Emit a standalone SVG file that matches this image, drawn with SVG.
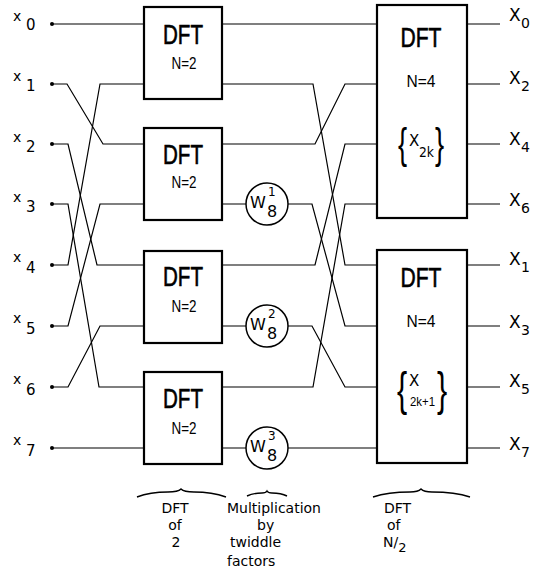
<svg xmlns="http://www.w3.org/2000/svg" width="537" height="585" viewBox="0 0 537 585">
<style>
.box{fill:#fff;stroke:#000;stroke-width:2.2}
.w{fill:none;stroke:#000;stroke-width:1.2}
.c{fill:#fff;stroke:#000;stroke-width:1.5}
.brace{fill:none;stroke:#000;stroke-width:1.4}
text{font-family:"DejaVu Sans","Liberation Sans",sans-serif;fill:#000}
.big{font-family:"Liberation Sans",sans-serif;font-size:27px;text-anchor:middle;stroke:#000;stroke-width:0.6}
.n{font-family:"Liberation Sans",sans-serif;font-size:16px;text-anchor:middle}
.br{font-family:"Liberation Sans",sans-serif}
.xi{font-size:14px}
.di{font-size:15px}
.xo{font-size:17px}
.so{font-size:14px}
.wl{font-size:16px}
.ws{font-size:12px}
.lab{font-size:14px}
</style>
<rect width="537" height="585" fill="#fff"/>
<g id="connectors">
<path class="w" d="M52,24 H144"/>
<path class="w" d="M52,84 H67 L103,144 H144"/>
<path class="w" d="M52,144 H68 L97,265 H144"/>
<path class="w" d="M52,204 H68 L99,387 H144"/>
<path class="w" d="M52,265 H68 L100,84 H144"/>
<path class="w" d="M52,326 H68 L100,204 H144"/>
<path class="w" d="M52,387 H68 L100,326 H144"/>
<path class="w" d="M52,448 H144"/>
<path class="w" d="M222,24 H377"/>
<path class="w" d="M222,84 H313 L345,265 H377"/>
<path class="w" d="M222,144 H315 L345,84 H377"/>
<path class="w" d="M222,204 H246 M288,204 H312 L345,326 H377"/>
<path class="w" d="M222,265 H315 L345,144 H377"/>
<path class="w" d="M222,326 H246 M288,326 H312 L345,387 H377"/>
<path class="w" d="M222,387 H313 L345,204 H377"/>
<path class="w" d="M222,448 H246 M288,448 H377"/>
<path class="w" d="M467,24 H500 M467,84 H500 M467,144 H500 M467,204 H500 M467,265 H500 M467,326 H500 M467,387 H500 M467,448 H500"/>
</g>
<g id="inputs">
<g fill="#000"><circle cx="52" cy="24" r="2"/><circle cx="52" cy="84" r="2"/><circle cx="52" cy="144" r="2"/><circle cx="52" cy="204" r="2"/><circle cx="52" cy="265" r="2"/><circle cx="52" cy="326" r="2"/><circle cx="52" cy="387" r="2"/><circle cx="52" cy="448" r="2"/></g>
<text class="xi" x="13" y="21">x</text><text class="di" x="26" y="30">0</text>
<text class="xi" x="13" y="81">x</text><text class="di" x="26" y="91">1</text>
<text class="xi" x="13" y="142">x</text><text class="di" x="26" y="152">2</text>
<text class="xi" x="13" y="202">x</text><text class="di" x="26" y="212">3</text>
<text class="xi" x="13" y="262">x</text><text class="di" x="26" y="273">4</text>
<text class="xi" x="13" y="323">x</text><text class="di" x="26" y="334">5</text>
<text class="xi" x="13" y="384">x</text><text class="di" x="26" y="395">6</text>
<text class="xi" x="13" y="445">x</text><text class="di" x="26" y="456">7</text>
</g>
<g id="dft2a"><rect class="box" x="144" y="7" width="78" height="92"/><text class="big" x="183" y="44" textLength="40" lengthAdjust="spacingAndGlyphs">DFT</text><text class="n" x="184" y="69" textLength="25" lengthAdjust="spacingAndGlyphs">N=2</text></g>
<g id="dft2b"><rect class="box" x="144" y="128" width="78" height="92"/><text class="big" x="183" y="164" textLength="40" lengthAdjust="spacingAndGlyphs">DFT</text><text class="n" x="184" y="188" textLength="25" lengthAdjust="spacingAndGlyphs">N=2</text></g>
<g id="dft2c"><rect class="box" x="144" y="251" width="78" height="92"/><text class="big" x="183" y="286" textLength="40" lengthAdjust="spacingAndGlyphs">DFT</text><text class="n" x="184" y="312" textLength="25" lengthAdjust="spacingAndGlyphs">N=2</text></g>
<g id="dft2d"><rect class="box" x="144" y="372" width="78" height="92"/><text class="big" x="183" y="408" textLength="40" lengthAdjust="spacingAndGlyphs">DFT</text><text class="n" x="184" y="434" textLength="25" lengthAdjust="spacingAndGlyphs">N=2</text></g>
<g id="tw1"><circle class="c" cx="267" cy="204" r="21"/><text class="wl" x="250" y="208">W</text><text class="ws" x="268" y="196">1</text><text class="wl" x="267" y="217">8</text></g>
<g id="tw2"><circle class="c" cx="267" cy="326" r="21"/><text class="wl" x="250" y="330">W</text><text class="ws" x="268" y="318">2</text><text class="wl" x="267" y="339">8</text></g>
<g id="tw3"><circle class="c" cx="267" cy="448" r="21"/><text class="wl" x="250" y="452">W</text><text class="ws" x="268" y="440">3</text><text class="wl" x="267" y="461">8</text></g>
<g id="dft4even"><rect class="box" x="377" y="5" width="90" height="213"/>
<text class="big" x="421" y="47" textLength="41" lengthAdjust="spacingAndGlyphs">DFT</text>
<text class="n" x="421" y="87" textLength="29" lengthAdjust="spacingAndGlyphs">N=4</text>
<text class="br" font-size="42" transform="translate(398,158) scale(0.65,1)">{</text>
<text font-size="15" x="409" y="146">X</text><text font-size="14" x="419" y="157" textLength="15" lengthAdjust="spacingAndGlyphs">2k</text>
<text class="br" font-size="42" transform="translate(435,158) scale(0.65,1)">}</text>
</g>
<g id="dft4odd"><rect class="box" x="377" y="250" width="90" height="213"/>
<text class="big" x="421" y="287" textLength="41" lengthAdjust="spacingAndGlyphs">DFT</text>
<text class="n" x="421" y="327" textLength="29" lengthAdjust="spacingAndGlyphs">N=4</text>
<text class="br" font-size="47" transform="translate(397,405) scale(0.65,1)">{</text>
<text font-size="15" x="409" y="386">X</text><text class="br" font-size="12.5" x="410" y="406" textLength="25" lengthAdjust="spacingAndGlyphs">2k+1</text>
<text class="br" font-size="47" transform="translate(437,405) scale(0.65,1)">}</text>
</g>
<g id="outputs">
<text class="xo" x="509" y="21">X</text><text class="so" x="521" y="28">0</text>
<text class="xo" x="509" y="84">X</text><text class="so" x="521" y="91">2</text>
<text class="xo" x="509" y="145">X</text><text class="so" x="521" y="152">4</text>
<text class="xo" x="509" y="206">X</text><text class="so" x="521" y="213">6</text>
<text class="xo" x="509" y="265">X</text><text class="so" x="521" y="272">1</text>
<text class="xo" x="509" y="328">X</text><text class="so" x="521" y="335">3</text>
<text class="xo" x="509" y="387">X</text><text class="so" x="521" y="394">5</text>
<text class="xo" x="509" y="450">X</text><text class="so" x="521" y="457">7</text>
</g>
<g id="labels">
<path class="brace" d="M137,497 Q150,492 168,492 Q178,492 181,489 Q184,492 194,492 Q212,492 226,497"/>
<path class="brace" d="M247,496 Q253,493 262,493 Q266,493 267,491 Q268,493 272,493 Q281,493 287,496"/>
<path class="brace" d="M373,497 Q388,492 410,492 Q418,492 421,489 Q424,492 432,492 Q455,492 470,497"/>
<text class="lab" x="175" y="513" text-anchor="middle">DFT</text>
<text class="lab" x="175" y="530" text-anchor="middle">of</text>
<text class="lab" x="176" y="547" text-anchor="middle">2</text>
<text class="lab" x="227" y="513">Multiplication</text>
<text class="lab" x="257" y="530">by</text>
<text class="lab" x="230" y="547">twiddle</text>
<text class="lab" x="227" y="566">factors</text>
<text class="lab" x="384" y="513">DFT</text>
<text class="lab" x="387" y="530">of</text>
<text class="lab" x="383" y="547">N/<tspan font-size="13" dy="5">2</tspan></text>
</g>
</svg>
